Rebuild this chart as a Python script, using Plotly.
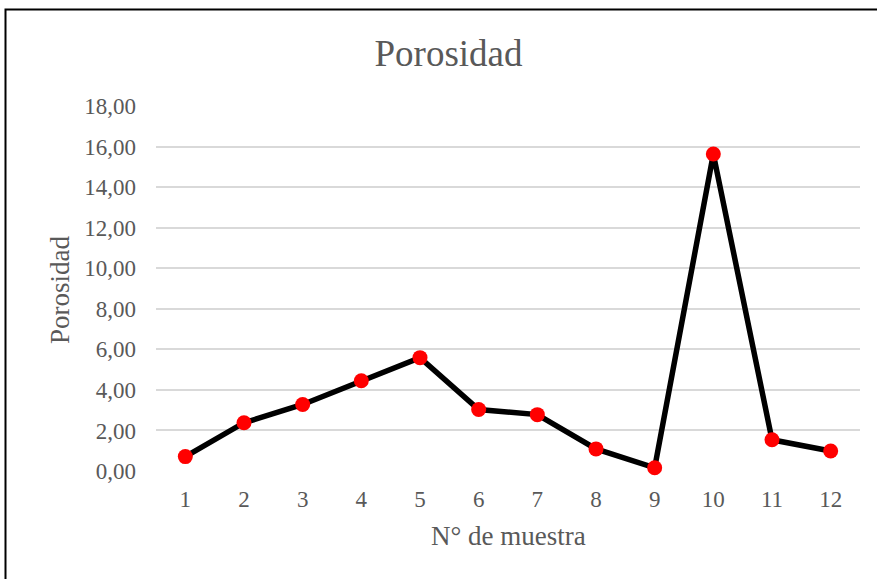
import plotly.graph_objects as go

# Porosidad por número de muestra
muestras = ["1", "2", "3", "4", "5", "6", "7", "8", "9", "10", "11", "12"]
porosidad = [0.71, 2.38, 3.28, 4.45, 5.59, 3.03, 2.78, 1.09, 0.16, 15.63, 1.54, 0.99]
y_ticks = [0, 2, 4, 6, 8, 10, 12, 14, 16, 18]

W, H = 877, 579
ML, MR, MT, MB = 156, 17, 106, 108
pw, ph = W - ML - MR, H - MT - MB

font_fam = "Liberation Serif, Times New Roman, serif"
gray = "#595959"


def px_x(x):
    return (x - ML) / pw


def px_y(y):
    return (H - MB - y) / ph


fig = go.Figure()
fig.add_trace(go.Scatter(
    x=muestras, y=porosidad, mode="lines+markers",
    line=dict(color="black", width=5.5),
    marker=dict(color="#ff0000", size=15),
    cliponaxis=False,
    showlegend=False,
))

# outer frame of the chart area
fig.add_shape(type="rect", xref="paper", yref="paper",
              x0=px_x(5.5), x1=1.2, y0=-0.6, y1=px_y(9.5),
              line=dict(color="black", width=2), fillcolor="rgba(0,0,0,0)", layer="below")

# axis titles
fig.add_annotation(text="N° de muestra", xref="paper", yref="paper",
                   x=px_x(508), y=px_y(536), xanchor="center", yanchor="middle",
                   showarrow=False, font=dict(family=font_fam, size=27, color=gray))
fig.add_annotation(text="Porosidad", xref="paper", yref="paper",
                   x=px_x(60), y=px_y(290), xanchor="center", yanchor="middle",
                   textangle=-90, showarrow=False,
                   font=dict(family=font_fam, size=27, color=gray))

fig.update_layout(
    width=W, height=H,
    margin=dict(l=ML, r=MR, t=MT, b=MB, autoexpand=False),
    paper_bgcolor="white", plot_bgcolor="white",
    separators=",.",
    font=dict(family=font_fam, color=gray, size=23),
    title=dict(text="Porosidad", x=px_x(448.5), xref="paper", xanchor="center",
               y=1 - 53 / H, yanchor="middle",
               font=dict(family=font_fam, size=37, color=gray)),
    xaxis=dict(
        type="category", range=[-0.5, 11.5], automargin=False,
        showgrid=False, zeroline=False, showline=False, ticks="",
        tickfont=dict(size=23, color=gray), ticklabelstandoff=12,
    ),
    yaxis=dict(
        range=[0, 18], tickvals=y_ticks, tickformat=".2f", automargin=False,
        showgrid=True, gridcolor="#d9d9d9", gridwidth=1.5,
        zeroline=False, showline=False, ticks="",
        tickfont=dict(size=23, color=gray), ticklabelstandoff=19,
    ),
)

fig.write_html("out.html")
